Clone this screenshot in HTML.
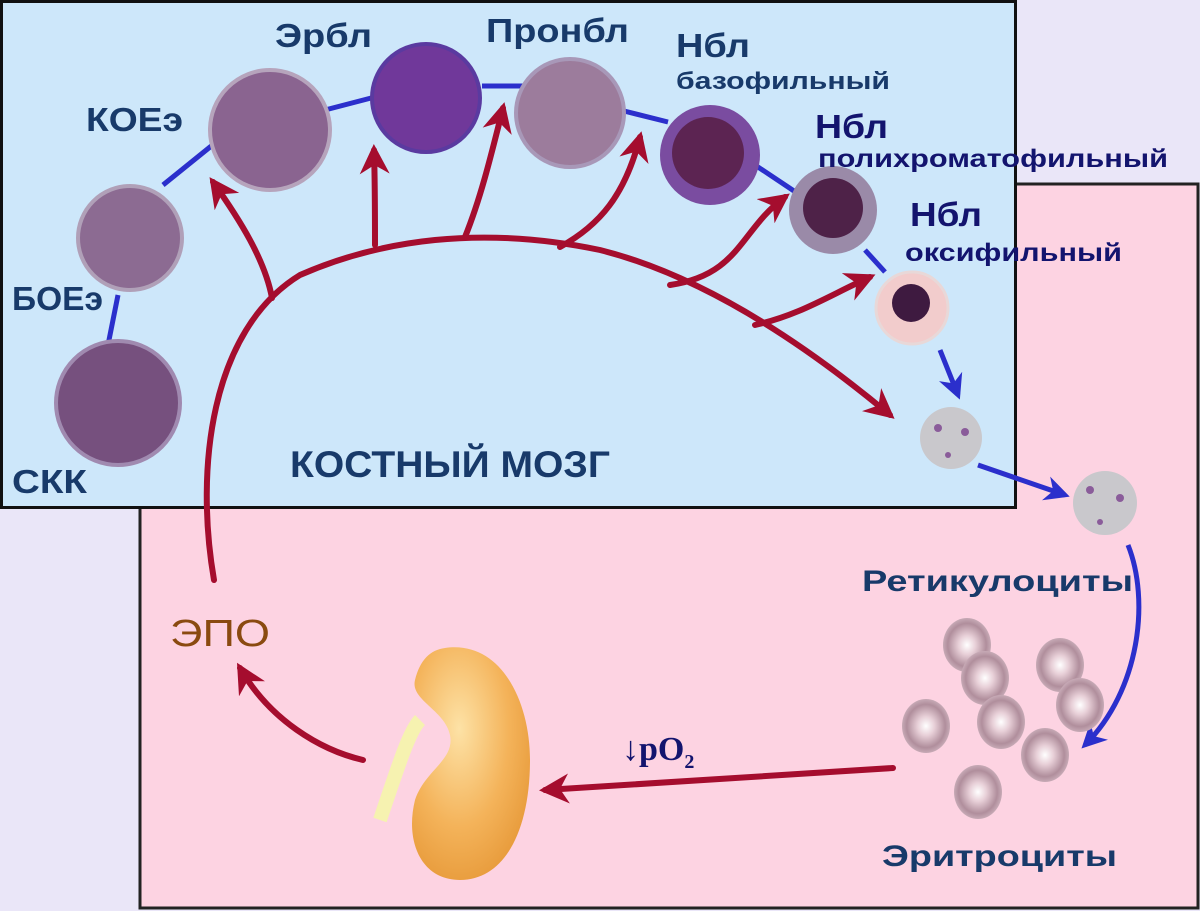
<!DOCTYPE html>
<html><head><meta charset="utf-8"><style>
html,body{margin:0;padding:0;background:#eae6f8;}
svg{display:block;}
text{font-family:"Liberation Sans",sans-serif;font-weight:bold;}
</style></head><body>
<svg width="1200" height="911" viewBox="0 0 1200 911" xmlns="http://www.w3.org/2000/svg">
<defs>
<marker id="ra" viewBox="0 0 10 10" refX="8" refY="5" markerWidth="5" markerHeight="5" orient="auto" markerUnits="strokeWidth"><path d="M0,0 L10,5 L0,10 L3,5 Z" fill="#a50d2e"/></marker>
<marker id="ba" viewBox="0 0 10 10" refX="8" refY="5" markerWidth="5" markerHeight="5" orient="auto" markerUnits="strokeWidth"><path d="M0,0 L10,5 L0,10 L3,5 Z" fill="#2b2fcc"/></marker>
<radialGradient id="rbc" cx="50%" cy="50%" r="50%"><stop offset="0" stop-color="#fff"/><stop offset="0.35" stop-color="#e8d0d8"/><stop offset="0.8" stop-color="#b08e9c"/><stop offset="1" stop-color="#c7aab6"/></radialGradient>
<radialGradient id="kid" cx="40%" cy="35%" r="70%"><stop offset="0" stop-color="#fde2a6"/><stop offset="0.6" stop-color="#f4b35a"/><stop offset="1" stop-color="#e79a3a"/></radialGradient>
</defs>
<rect x="140" y="184" width="1058" height="724" fill="#fdd3e2" stroke="#222" stroke-width="3"/>
<rect x="1.5" y="1.5" width="1014" height="506" fill="#cde7fa" stroke="#111" stroke-width="3"/>

<g stroke="#2b2fcc" stroke-width="5" fill="none">
<line x1="108" y1="345" x2="118" y2="295"/>
<line x1="163" y1="185" x2="215" y2="143"/>
<line x1="325" y1="110" x2="375" y2="97"/>
<line x1="482" y1="86" x2="525" y2="86"/>
<line x1="620" y1="110" x2="668" y2="122"/>
<line x1="755" y1="165" x2="800" y2="195"/>
<line x1="865" y1="250" x2="885" y2="272"/>
<line x1="940" y1="350" x2="958" y2="395" marker-end="url(#ba)"/>
<line x1="978" y1="465" x2="1065" y2="495" marker-end="url(#ba)"/>
<path d="M1128,545 C1150,600 1140,690 1085,745" marker-end="url(#ba)"/>
</g>

<circle cx="118" cy="403" r="62" fill="#76507e" stroke="#a08ab0" stroke-width="4"/>
<circle cx="130" cy="238" r="52" fill="#8c6b92" stroke="#b0a0b8" stroke-width="4"/>
<circle cx="270" cy="130" r="60" fill="#8a6490" stroke="#b6a4bc" stroke-width="4"/>
<circle cx="426" cy="98" r="54" fill="#70389a" stroke="#5a3aa0" stroke-width="4"/>
<circle cx="570" cy="113" r="54" fill="#9c7c9c" stroke="#a898b8" stroke-width="4"/>
<circle cx="710" cy="155" r="50" fill="#7a4ca0"/>
<circle cx="708" cy="153" r="36" fill="#5c2452"/>
<circle cx="833" cy="210" r="44" fill="#9a8aa8"/>
<circle cx="833" cy="208" r="30" fill="#4e2248"/>
<circle cx="912" cy="308" r="36" fill="#f2cccc" stroke="#e8d8d8" stroke-width="3"/>
<circle cx="911" cy="303" r="19" fill="#3e1a40"/>
<circle cx="951" cy="438" r="31" fill="#c9c8cc"/>
<circle cx="1105" cy="503" r="32" fill="#c9c8cc"/>
<g fill="#8a5c9a"><circle cx="938" cy="428" r="4"/><circle cx="965" cy="432" r="4"/><circle cx="948" cy="455" r="3"/><circle cx="1090" cy="490" r="4"/><circle cx="1120" cy="498" r="4"/><circle cx="1100" cy="522" r="3"/></g>

<g fill="url(#rbc)">
<ellipse cx="967" cy="645" rx="24" ry="27"/>
<ellipse cx="985" cy="678" rx="24" ry="27"/>
<ellipse cx="1060" cy="665" rx="24" ry="27"/>
<ellipse cx="1080" cy="705" rx="24" ry="27"/>
<ellipse cx="926" cy="726" rx="24" ry="27"/>
<ellipse cx="1001" cy="722" rx="24" ry="27"/>
<ellipse cx="1045" cy="755" rx="24" ry="27"/>
<ellipse cx="978" cy="792" rx="24" ry="27"/>
</g>

<g stroke="#a50d2e" stroke-width="6" fill="none" stroke-linecap="round">
<path d="M214,580 C195,470 210,330 300,275 C380,240 480,225 600,250 C700,275 800,340 890,415" marker-end="url(#ra)"/>
<path d="M272,298 C265,260 240,220 213,182" marker-end="url(#ra)"/>
<path d="M375,245 C375,220 375,185 374,150" marker-end="url(#ra)"/>
<path d="M465,237 C480,200 490,160 503,108" marker-end="url(#ra)"/>
<path d="M560,247 C600,225 625,195 640,137" marker-end="url(#ra)"/>
<path d="M670,285 C740,275 740,230 785,197" marker-end="url(#ra)"/>
<path d="M755,325 C800,315 830,295 870,277" marker-end="url(#ra)"/>
<path d="M893,768 L545,790" marker-end="url(#ra)"/>
<path d="M363,760 C320,750 270,720 240,668" marker-end="url(#ra)"/>
</g>

<path d="M380,820 C400,760 410,730 420,720" stroke="#f6f2b0" stroke-width="14" fill="none"/>
<path d="M445,648 C500,640 530,700 530,760 C530,830 505,880 460,880 C420,880 405,840 415,800 C425,770 455,760 450,735 C445,710 410,700 415,680 C420,660 430,650 445,648 Z" fill="url(#kid)"/>

<g fill="#183a6a" lengthAdjust="spacingAndGlyphs">
<text x="12" y="493" font-size="33" textLength="75" lengthAdjust="spacingAndGlyphs">СКК</text>
<text x="12" y="310" font-size="33" textLength="91" lengthAdjust="spacingAndGlyphs">БОЕэ</text>
<text x="86" y="131" font-size="33" textLength="97" lengthAdjust="spacingAndGlyphs">КОЕэ</text>
<text x="275" y="47" font-size="33" textLength="97" lengthAdjust="spacingAndGlyphs">Эрбл</text>
<text x="486" y="42" font-size="33" textLength="143" lengthAdjust="spacingAndGlyphs">Пронбл</text>
<text x="676" y="57" font-size="33" textLength="74" lengthAdjust="spacingAndGlyphs">Нбл</text>
<text x="676" y="89" font-size="24" textLength="214" lengthAdjust="spacingAndGlyphs">базофильный</text>
<text x="290" y="477" font-size="37" textLength="320" lengthAdjust="spacingAndGlyphs">КОСТНЫЙ МОЗГ</text>
<text x="862" y="591" font-size="30" textLength="271" lengthAdjust="spacingAndGlyphs">Ретикулоциты</text>
<text x="882" y="866" font-size="30" textLength="235" lengthAdjust="spacingAndGlyphs">Эритроциты</text>
</g>
<g fill="#13146e">
<text x="815" y="138" font-size="33" textLength="73" lengthAdjust="spacingAndGlyphs">Нбл</text>
<text x="818" y="167" font-size="25" textLength="350" lengthAdjust="spacingAndGlyphs">полихроматофильный</text>
<text x="910" y="226" font-size="33" textLength="72" lengthAdjust="spacingAndGlyphs">Нбл</text>
<text x="905" y="261" font-size="25" textLength="217" lengthAdjust="spacingAndGlyphs">оксифильный</text>
</g>
<text x="170" y="646" font-size="38" fill="#8a4a10" textLength="100" lengthAdjust="spacingAndGlyphs" style="font-weight:normal">ЭПО</text>
<text x="622" y="760" font-size="34" fill="#13146e" style="font-family:'Liberation Serif',serif">↓pO<tspan font-size="20" dy="8">2</tspan></text>
</svg>
</body></html>
